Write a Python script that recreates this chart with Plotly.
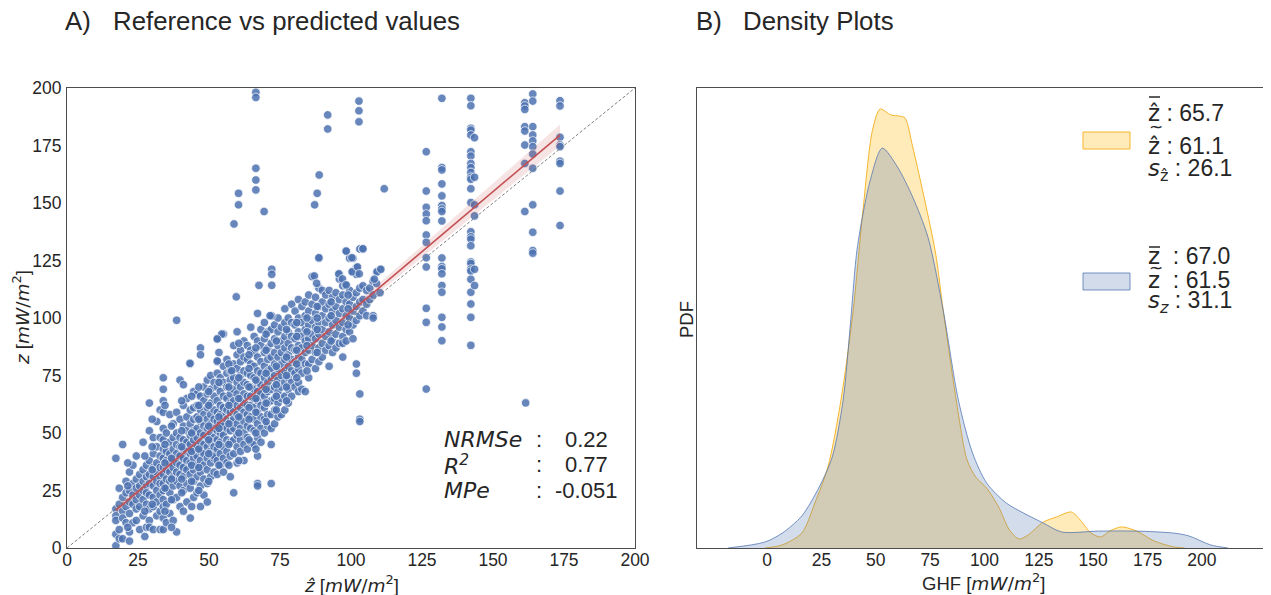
import numpy as np
import plotly.graph_objects as go

# page body has an 8px margin: the figure is drawn 8px right/down of the window corner
OFF = 8
W, H = 1271 - OFF, 595 - OFF

# ---------------- data: panel A (predicted z_hat vs reference z) ----------------
cloud_zhat = [17.2, 18.4, 19.6, 20.8, 22.0, 23.2, 24.4, 25.6, 26.8, 28.0, 29.0, 30.4, 31.6, 32.8,
              33.9, 35.0, 36.2, 37.4, 38.6, 39.8, 41.0, 42.2, 43.4, 44.6, 45.8, 47.0, 48.2, 49.4,
              50.6, 51.8, 52.9, 54.0, 55.1, 56.3, 57.5, 58.7, 59.9, 61.1, 62.3, 63.5, 64.7, 65.9,
              67.1, 68.3, 69.5, 70.7, 71.9, 73.1, 74.3, 75.5, 76.7, 77.9, 79.1, 80.3, 81.5, 82.7,
              83.9, 85.1, 86.3, 87.5, 88.7, 89.9, 91.1, 92.3, 93.5, 94.7, 95.9, 97.1, 98.3, 99.5,
              100.7, 101.9, 103.1, 104.2, 105.5, 106.6, 107.8, 109.0, 110.2]
cloud_z = [
    [39, 17, 14, 12, 6, 1], [26, 19, 8, 4], [45, 22, 16, 13, 4], [24, 18, 11, 29],
    [33, 25, 20, 15, 7, 3], [28, 23, 19, 11, 36], [30, 26, 21, 17, 12, 40], [27, 23, 32, 18, 8],
    [46, 34, 29, 25, 21, 14], [31, 27, 24, 19, 36, 9], [63, 51, 38, 32, 28, 23, 17, 12, 9],
    [41, 35, 31, 27, 22, 18, 8, 48], [55, 44, 37, 33, 29, 25, 20, 14],
    [60, 48, 40, 35, 31, 28, 23, 16, 8],
    [74, 69, 64, 59, 52, 47, 43, 39, 35, 32, 28, 25, 21, 18, 13, 8],
    [50, 42, 38, 34, 30, 26, 19, 11], [58, 46, 41, 37, 33, 29, 24, 15],
    [54, 48, 43, 39, 35, 31, 27, 21, 12], [99, 59, 50, 45, 41, 37, 33, 29, 22, 7],
    [73, 56, 48, 44, 40, 36, 32, 27, 18], [71, 62, 53, 47, 43, 39, 35, 31, 25, 16],
    [65, 57, 51, 46, 42, 38, 34, 28, 20], [80, 60, 54, 49, 45, 41, 37, 32, 26, 13],
    [68, 61, 56, 51, 47, 43, 39, 34, 29, 22], [67, 62, 57, 52, 48, 44, 40, 36, 31, 24],
    [87, 84, 66, 60, 55, 50, 46, 42, 38, 33, 27, 18], [70, 64, 58, 53, 49, 45, 41, 36, 30, 23],
    [73, 67, 61, 56, 52, 48, 44, 39, 34, 28, 20], [75, 69, 63, 58, 54, 50, 46, 42, 37, 31],
    [72, 66, 60, 56, 52, 48, 44, 39, 33, 40], [91, 81, 76, 70, 64, 59, 55, 51, 47, 43, 38, 32],
    [74, 68, 62, 58, 54, 50, 46, 41, 36], [93, 79, 72, 66, 61, 57, 53, 49, 44, 39, 33],
    [82, 76, 70, 65, 60, 56, 52, 47, 42, 37], [77, 73, 67, 63, 59, 55, 51, 46, 40, 31],
    [88, 80, 74, 69, 64, 60, 56, 52, 47, 41, 24], [94, 84, 78, 72, 67, 62, 58, 54, 49, 44, 37],
    [86, 81, 75, 70, 65, 61, 57, 52, 47, 42], [90, 83, 77, 72, 67, 63, 59, 55, 50, 45, 38],
    [88, 82, 76, 71, 66, 62, 58, 53, 48, 43], [96, 86, 80, 75, 70, 66, 62, 57, 52, 46],
    [92, 85, 79, 74, 69, 65, 61, 56, 51, 45], [102, 90, 83, 77, 72, 68, 64, 59, 54, 48, 40, 28, 27],
    [95, 88, 81, 76, 71, 67, 62, 57, 52, 46], [98, 91, 85, 79, 74, 70, 66, 61, 56, 50],
    [94, 87, 82, 77, 72, 68, 63, 58, 53], [101, 95, 89, 83, 78, 74, 69, 64, 58, 52, 45, 28],
    [97, 91, 85, 80, 75, 70, 65, 60, 54], [100, 94, 88, 83, 78, 73, 68, 63, 57],
    [96, 90, 85, 80, 75, 70, 65, 58], [104, 98, 92, 87, 82, 77, 72, 66, 60],
    [100, 94, 89, 84, 79, 74, 69, 63], [106, 98, 92, 87, 82, 77, 72, 66],
    [103, 97, 91, 86, 81, 76, 70], [108, 100, 94, 88, 83, 78, 72, 68],
    [105, 98, 92, 87, 82, 76, 69], [107, 101, 95, 90, 85, 80, 68],
    [110, 103, 97, 91, 86, 80, 74], [118, 106, 99, 93, 88, 82], [109, 102, 96, 91, 85, 78],
    [126, 113, 105, 98, 93, 87, 81], [112, 107, 101, 95, 89, 83], [110, 104, 98, 92, 86],
    [112, 106, 100, 94, 88, 79], [109, 103, 97, 91, 85], [111, 105, 99, 93, 87],
    [119, 117, 108, 102, 96, 89], [114, 110, 104, 98, 92, 89, 83], [129, 114, 107, 101, 95, 90],
    [126, 112, 106, 100, 94], [120, 126, 109, 103, 97, 91], [122, 119, 111, 105, 99, 80, 76],
    [130, 113, 107, 101, 67, 56, 55], [130, 114, 108, 103], [112, 106, 101], [113, 108],
    [116, 110, 101, 100], [120, 115], [121, 111],
]
# extra scattered points between the columns
fill_zhat = [21.4, 27.4, 30.0, 34.5, 36.8, 40.4, 43.9, 46.4, 49.9, 53.5, 57.0, 60.5, 64.1, 66.5,
             70.1, 73.7, 77.3, 80.9, 84.5, 88.1, 93.0, 99.0]
fill_z = [
    [9, 27, 37], [40, 16, 5], [19, 34, 44, 56], [16, 45, 26, 62, 37], [21, 53, 39, 9, 30],
    [24, 64, 44, 30, 51], [18, 50, 66, 36, 42, 29], [25, 43, 70, 56, 35, 62],
    [29, 68, 53, 41, 47, 62], [36, 72, 57, 45, 52, 85], [45, 70, 62, 36, 80, 54],
    [38, 74, 57, 65, 50, 89], [47, 84, 61, 70, 56, 78], [50, 87, 65, 73, 59, 43],
    [55, 86, 69, 76, 93, 63], [60, 90, 71, 79, 66], [64, 95, 75, 83, 70], [74, 98, 86, 80, 92],
    [77, 100, 88, 94], [85, 105, 95, 100], [90, 107, 101], [97, 110, 104],
]
stripe_zhat = [126.5, 132.0, 142.2, 143.5, 161.2, 164.0, 173.6]
stripe_z = [
    [172.3, 155.2, 148.1, 145.2, 142.3, 136.1, 132.9, 126.2, 122.2, 104.2, 98.1, 69.1],
    [195.5, 165.4, 164.4, 158.3, 153.1, 148.9, 147.4, 146.3, 142.2, 126.1, 122.4, 121.4, 119.2,
     114.1, 111.2, 100.3, 96.1, 90.1],
    [195.5, 192.3, 182.5, 181.7, 179.6, 172.3, 170.4, 167.2, 165.4, 163.3, 161.2, 160.3, 156.2,
     150.2, 137.5, 135.3, 134.3, 131.4, 124.4, 123.7, 121.3, 120.4, 116.8, 111.2, 106.1, 100.3, 88.1],
    [178.4, 161.2, 149.2, 144.4, 121.2, 114.1],
    [193.6, 192.2, 190.7, 183.2, 181.3, 175.2, 167.2, 146.3],
    [197.4, 194.3, 183.2, 179.6, 177.0, 174.5, 171.3, 165.1, 149.2, 137.3, 129.3, 128.2],
    [194.5, 192.2, 178.6, 175.2, 174.5, 168.2, 167.2, 155.2, 140.2],
]
out_zhat = [66.5, 66.5, 66.5, 66.5, 66.5, 60.4, 60.4, 58.8, 69.4, 59.6, 67.6, 72.1, 72.1, 72.1, 72.1,
            91.8, 91.8, 102.8, 102.8, 102.8, 88.8, 88.1, 87.2, 111.7, 88.7, 98.3, 100.3, 104.2,
            87.1, 87.9, 95.7, 97.0, 98.3, 100.4, 102.3, 102.9, 109.2, 110.5, 108.2, 71.5, 54.5,
            52.9, 43.3, 52.9, 58.0, 161.5]
out_z = [198.1, 195.9, 165.1, 160.0, 155.7, 154.2, 149.2, 140.9, 146.3, 109.2, 114.2, 121.2, 119.0,
         114.2, 100.9, 188.3, 182.2, 194.3, 190.1, 185.3, 162.2, 154.2, 149.2, 156.2, 126.2, 129.1,
         126.2, 130.1, 118.3, 115.1, 119.2, 117.0, 114.4, 120.1, 122.2, 119.2, 120.1, 121.2, 116.9,
         101.0, 93.0, 90.9, 80.3, 81.3, 77.1, 63.1]

# regression fit and its confidence half-width
fit_intercept = -1.53
fit_slope = 1.043
ci_zhat = [17.2, 40, 60, 80, 100, 120, 140, 160, 173.6]
ci_half = [1.6, 1.1, 0.9, 1.0, 1.5, 2.3, 3.2, 4.0, 4.6]

stat_labels = ["NRMSe", "R<sup>2</sup>", "MPe"]
stat_values = ["0.22", "0.77", "-0.051"]

# ---------------- data: panel B (density curves, PDF x 1e-3) ----------------
pred_ghf = [-1, 7, 16, 22, 28, 34, 39.5, 44, 48.5, 52, 57, 61, 63.5, 67, 71.5, 77.5, 81, 87, 92, 96,
            101, 106.5, 111.5, 116, 120, 127, 133, 140, 144, 149, 153.5, 157.5, 163, 170, 178, 187, 192]
pred_pdf = [0, 0.14, 0.68, 2.05, 3.69, 6.74, 10.71, 15.26, 19.04, 20.0, 19.73, 19.68, 19.59, 18.27,
            16.31, 13.44, 10.84, 6.74, 4.01, 3.23, 2.73, 1.87, 0.82, 0.41, 0.59, 1.18, 1.41, 1.64,
            1.28, 0.68, 0.50, 0.77, 0.96, 0.77, 0.32, 0.05, 0]
ref_ghf = [-18, -1, 7, 16, 24, 30, 35, 38.5, 41.5, 47.5, 53, 60, 67, 74, 81, 88, 94.5, 101, 110, 118,
           127, 135.5, 152.5, 170, 187, 194, 204, 212]
ref_pdf = [0, 0.27, 0.68, 1.46, 2.78, 4.15, 6.74, 10.39, 13.67, 16.77, 18.22, 17.36, 15.99, 14.17,
           10.84, 6.74, 4.33, 2.96, 2.05, 1.59, 1.14, 0.73, 0.77, 0.77, 0.68, 0.55, 0.14, 0]
pred_values = ["65.7", "61.1", "26.1"]
ref_values = ["67.0", "61.5", "31.1"]

# ---------------- helpers (positions given in window pixels) ----------------
def fx(px):
    return (px - OFF) / W

def fy(py):
    return 1 - (py - OFF) / H

TXT = "#262626"
AX = "#4d4d4d"
SANS = "Liberation Sans, Arial, sans-serif"
MATH = "DejaVu Sans"
ZHAT = "\u1e91"

def mspan(s):
    return f"<span style=\"font-family:'DejaVu Sans'\">{s}</span>"

fig = go.Figure()

xs, ys = [], []
for x, col in zip(cloud_zhat, cloud_z):
    for v in col:
        xs.append(x); ys.append(v)
for x, col in zip(fill_zhat, fill_z):
    for v in col:
        xs.append(x); ys.append(v)
for x, col in zip(stripe_zhat, stripe_z):
    for v in col:
        xs.append(x); ys.append(v)
xs += out_zhat
ys += out_z

fig.add_trace(go.Scatter(
    x=xs, y=ys, mode="markers", xaxis="x", yaxis="y", showlegend=False,
    marker=dict(size=8.5, color="rgba(76,114,176,0.85)", line=dict(color="white", width=0.7)),
))

fig.add_trace(go.Scatter(x=[0, 200], y=[0, 200], mode="lines", xaxis="x", yaxis="y",
                         showlegend=False, line=dict(color="#707070", width=0.9, dash="3px,2px")))

ci_x = np.array(ci_zhat)
ci_c = fit_intercept + fit_slope * ci_x
fig.add_trace(go.Scatter(x=np.concatenate([ci_x, ci_x[::-1]]),
                         y=np.concatenate([ci_c + np.array(ci_half), (ci_c - np.array(ci_half))[::-1]]),
                         mode="lines", fill="toself", fillcolor="rgba(196,78,82,0.16)",
                         line=dict(width=0), xaxis="x", yaxis="y", showlegend=False, hoverinfo="skip"))
lx = np.array([min(xs), max(xs)])
fig.add_trace(go.Scatter(x=lx, y=fit_intercept + fit_slope * lx, mode="lines", xaxis="x", yaxis="y",
                         showlegend=False, line=dict(color="#c44e52", width=1.6)))

fig.add_trace(go.Scatter(x=pred_ghf, y=np.array(pred_pdf) * 1e-3, mode="lines", fill="tozeroy",
                         fillcolor="rgba(255,184,28,0.30)", xaxis="x2", yaxis="y2", showlegend=False,
                         line=dict(color="rgb(245,182,45)", width=1, shape="spline", smoothing=0.8)))
fig.add_trace(go.Scatter(x=ref_ghf, y=np.array(ref_pdf) * 1e-3, mode="lines", fill="tozeroy",
                         fillcolor="rgba(76,114,176,0.25)", xaxis="x2", yaxis="y2", showlegend=False,
                         line=dict(color="rgba(76,114,176,0.75)", width=1, shape="spline", smoothing=0.8)))

axis_common = dict(showgrid=False, zeroline=False, showline=True, mirror=True, linecolor=AX,
                   linewidth=1.2, ticks="", automargin=False,
                   tickfont=dict(family=SANS, size=17.5, color=TXT))
fig.update_layout(
    width=W, height=H, margin=dict(l=0, r=0, t=0, b=0, autoexpand=False),
    paper_bgcolor="white", plot_bgcolor="white",
    xaxis=dict(domain=[fx(67), fx(635)], range=[0, 200], tickvals=list(range(0, 201, 25)),
               anchor="y", ticklabelstandoff=-4, **axis_common),
    yaxis=dict(domain=[fy(548), fy(88)], range=[0, 200], tickvals=list(range(0, 201, 25)),
               anchor="x", ticklabelstandoff=1, **axis_common),
    xaxis2=dict(domain=[fx(697), fx(1270)], range=[-32.2, 231.3], tickvals=list(range(0, 201, 25)),
                anchor="y2", ticklabelstandoff=-4, **axis_common),
    yaxis2=dict(domain=[fy(548), fy(88)], range=[0, 0.02096], showticklabels=False,
                anchor="x2", **axis_common),
)

ann = []
def add_text(text, px, py, size, xanchor="left", family=SANS, angle=0):
    ann.append(dict(text=text, x=fx(px), y=fy(py), xref="paper", yref="paper", showarrow=False,
                    xanchor=xanchor, yanchor="middle", textangle=angle, borderpad=0,
                    font=dict(family=family, size=size, color=TXT)))

add_text("A)", 64, 21, 25.8)
add_text("Reference vs predicted values", 112, 21, 25.8)
add_text("B)", 695, 21, 25.8)
add_text("Density Plots", 742, 21, 25.8)

unit = "[" + mspan("<i>mW</i>/<i>m</i><sup>2</sup>") + "]"
add_text(mspan("<i>" + ZHAT + "</i>") + " " + unit, 351, 584, 18.5, xanchor="center")
add_text(mspan("<i>z</i>") + " " + unit, 21, 318, 18.5, xanchor="center", angle=-90)
add_text("GHF " + unit, 983, 582, 18.5, xanchor="center")
add_text("PDF", 686, 320, 18.5, xanchor="center", angle=-90)

for i, (lab, val) in enumerate(zip(stat_labels, stat_values)):
    py = 439 + i * 25.5
    add_text("<i>" + lab + "</i>", 443, py, 22, family=MATH)
    add_text(":", 539, py, 22, xanchor="center")
    add_text(val, 586, py, 22, xanchor="center")

# legend of panel B
fig.add_shape(type="rect", xref="paper", yref="paper", x0=fx(1083), x1=fx(1130), y0=fy(149), y1=fy(132),
              fillcolor="rgba(255,184,28,0.30)", line=dict(color="rgb(245,182,45)", width=1))
fig.add_shape(type="rect", xref="paper", yref="paper", x0=fx(1083), x1=fx(1130), y0=fy(290), y1=fy(273),
              fillcolor="rgba(76,114,176,0.25)", line=dict(color="rgba(76,114,176,0.75)", width=1))

pred_syms = [mspan(ZHAT), mspan(ZHAT), mspan("<i>s</i><sub>" + ZHAT + "</sub>")]
ref_syms = [mspan("z"), mspan("z"), mspan("<i>s</i><sub><i>z</i></sub>")]
for i, (sy, val) in enumerate(zip(pred_syms, pred_values)):
    py = [113, 146, 170][i]
    add_text(sy + "\u00a0: " + val, 1147, py, 23)
for i, (sy, val) in enumerate(zip(ref_syms, ref_values)):
    py = [256, 280, 302][i]
    sp = "\u00a0\u00a0: " if i < 2 else "\u00a0: "
    add_text(sy + sp + val, 1147, py, 23)

# accents drawn above the z symbols (bar = mean, tilde = median)
for py in (97, 247):
    fig.add_shape(type="line", xref="paper", yref="paper", x0=fx(1149), x1=fx(1160), y0=fy(py), y1=fy(py),
                  line=dict(color=TXT, width=1.5))
add_text("~", 1147.5, 127, 17, family=MATH)
add_text("~", 1147.5, 268, 17, family=MATH)

fig.update_layout(annotations=ann)
fig.write_html("out.html")
